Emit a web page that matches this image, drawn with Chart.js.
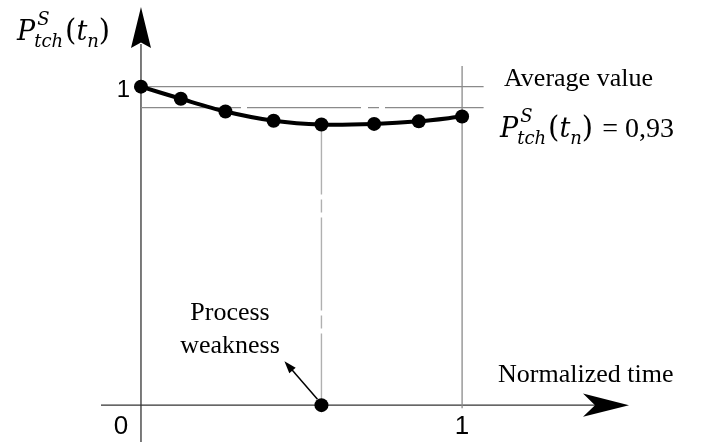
<!DOCTYPE html>
<html>
<head>
<meta charset="utf-8">
<script src="https://cdn.jsdelivr.net/npm/chart.js@4"></script>
<style>
  body { margin: 0; background: #fff; }
  #wrap { width: 704px; height: 444px; position: relative; }
</style>
</head>
<body>
<div id="wrap"><canvas id="chart"></canvas></div>
<script>
// values
const timePoints = [0, 0.124, 0.263, 0.413, 0.562, 0.726, 0.865, 1];
const reliability = [1, 0.962, 0.922, 0.893, 0.881, 0.883, 0.891, 0.906];
const averageValue = 0.934;
const averageText = "0,93";
const weaknessTime = 0.562;
const xTickLabels = ["0", "1"];
const yTickLabels = ["1"];

const curve = timePoints.map((t, i) => ({ x: t, y: reliability[i] }));
const lineEnd = 1.067;

// axes, arrows and texts are drawn over the chart scales
const sketch = {
  id: "sketch",
  beforeDatasetsDraw(c) {
    const ctx = c.ctx, xs = c.scales.x, ys = c.scales.y;
    const x0 = xs.getPixelForValue(0), y0 = ys.getPixelForValue(0);
    ctx.save();
    ctx.strokeStyle = "#333";
    ctx.lineWidth = 1.3;
    // y axis
    ctx.beginPath(); ctx.moveTo(x0, 442); ctx.lineTo(x0, 44); ctx.stroke();
    // x axis
    ctx.beginPath(); ctx.moveTo(101, y0); ctx.lineTo(600, y0); ctx.stroke();
    ctx.fillStyle = "#000";
    // y arrow
    ctx.beginPath();
    ctx.moveTo(x0, 7); ctx.lineTo(x0 + 10, 48); ctx.lineTo(x0, 42.5); ctx.lineTo(x0 - 10, 48);
    ctx.closePath(); ctx.fill();
    // x arrow
    ctx.beginPath();
    ctx.moveTo(629, y0); ctx.lineTo(583, y0 - 11.7); ctx.lineTo(595, y0); ctx.lineTo(583, y0 + 11.7);
    ctx.closePath(); ctx.fill();
    ctx.restore();
  },
  afterDraw(c) {
    const ctx = c.ctx, xs = c.scales.x, ys = c.scales.y;
    const x0 = xs.getPixelForValue(0), y0 = ys.getPixelForValue(0);
    ctx.save();
    ctx.fillStyle = "#000";
    // tick labels
    ctx.font = '24px "Liberation Sans"';
    ctx.textAlign = "right"; ctx.textBaseline = "alphabetic";
    ctx.fillText(yTickLabels[0], x0 - 11, ys.getPixelForValue(1) + 10);
    ctx.font = '26px "Liberation Sans"';
    ctx.textAlign = "center";
    ctx.fillText(xTickLabels[0], x0 - 20, y0 + 29);
    ctx.fillText(xTickLabels[1], xs.getPixelForValue(1), y0 + 29);

    // weakness arrow
    const wx = xs.getPixelForValue(weaknessTime);
    const ax = wx - 4, ay = y0 - 6, tx = wx - 37, ty = y0 - 44;
    ctx.strokeStyle = "#000"; ctx.lineWidth = 1.5;
    ctx.beginPath(); ctx.moveTo(ax, ay); ctx.lineTo(tx + 4, ty + 4.5); ctx.stroke();
    const ang = Math.atan2(ty - ay, tx - ax);
    ctx.beginPath();
    ctx.moveTo(tx, ty);
    ctx.lineTo(tx - 13 * Math.cos(ang - 0.33), ty - 13 * Math.sin(ang - 0.33));
    ctx.lineTo(tx - 13 * Math.cos(ang + 0.33), ty - 13 * Math.sin(ang + 0.33));
    ctx.closePath(); ctx.fill();

    // texts
    ctx.font = '26px "Liberation Serif"';
    ctx.textAlign = "left";
    ctx.fillText("Average value", 504, 86);
    ctx.fillText("Normalized time", 498, 382);
    ctx.textAlign = "center";
    ctx.fillText("Process", 230, 320);
    ctx.fillText("weakness", 230, 353);

    // formulas
    drawFormula(ctx, 17, 40, 27, "");
    drawFormula(ctx, 500, 137, 27, " = " + averageText);
    ctx.restore();
  }
};

function drawFormula(ctx, x, y, s, tail) {
  ctx.textAlign = "left";
  ctx.textBaseline = "alphabetic";
  const it = `italic ${s}px "DejaVu Serif"`;
  const itSmall = `italic ${Math.round(s * 0.68)}px "DejaVu Serif"`;
  ctx.font = it;
  ctx.fillText("P", x, y);
  let cx = x + ctx.measureText("P").width;
  ctx.font = itSmall;
  ctx.fillText("S", cx + 2, y - 0.55 * s);
  ctx.fillText("tch", cx - 1, y + 0.27 * s);
  cx += Math.max(ctx.measureText("S").width + 2, ctx.measureText("tch").width) + 1;
  ctx.font = `${s + 2}px "DejaVu Serif"`;
  ctx.fillText("(", cx, y);
  cx += ctx.measureText("(").width;
  ctx.font = it;
  ctx.fillText("t", cx, y);
  cx += ctx.measureText("t").width;
  ctx.font = itSmall;
  ctx.fillText("n", cx, y + 0.27 * s);
  cx += ctx.measureText("n").width;
  ctx.font = `${s + 2}px "DejaVu Serif"`;
  ctx.fillText(")", cx, y);
  cx += ctx.measureText(")").width;
  if (tail) {
    ctx.font = '28px "Liberation Serif"';
    ctx.fillText(tail, cx + 2, y);
  }
}

new Chart(document.getElementById("chart"), {
  type: "scatter",
  data: {
    datasets: [
      {
        data: curve, showLine: true, tension: 0.3,
        borderColor: "#000", borderWidth: 4,
        pointRadius: 7, pointBackgroundColor: "#000", pointBorderWidth: 0
      },
      {
        data: [{ x: weaknessTime, y: 0 }],
        pointRadius: 7, pointBackgroundColor: "#000", pointBorderWidth: 0
      },
      {
        data: [{ x: 0, y: 1 }, { x: lineEnd, y: 1 }], showLine: true,
        borderColor: "#8a8a8a", borderWidth: 1.3, pointRadius: 0
      },
      {
        data: [{ x: 0, y: averageValue }, { x: lineEnd, y: averageValue }], showLine: true,
        borderColor: "#8a8a8a", borderWidth: 1.3, pointRadius: 0,
        borderDash: [114, 7, 11, 6], borderDashOffset: 32
      },
      {
        data: [{ x: weaknessTime, y: reliability[4] }, { x: weaknessTime, y: 0 }], showLine: true,
        borderColor: "#b0b0b0", borderWidth: 1.4, pointRadius: 0,
        borderDash: [93, 5, 13, 5], borderDashOffset: 23
      },
      {
        data: [{ x: 1, y: -0.01 }, { x: 1, y: 1.065 }], showLine: true,
        borderColor: "#8a8a8a", borderWidth: 1.3, pointRadius: 0
      }
    ]
  },
  options: {
    responsive: true,
    maintainAspectRatio: false,
    animation: false,
    layout: { padding: { left: 108.87, right: 81.35, top: 2.5, bottom: 6.8 } },
    plugins: { legend: { display: false }, tooltip: { enabled: false } },
    scales: {
      x: { type: "linear", min: -0.1, max: 1.5, display: false },
      y: { type: "linear", min: -0.1, max: 1.25, display: false }
    }
  },
  plugins: [sketch]
});
</script>
</body>
</html>
